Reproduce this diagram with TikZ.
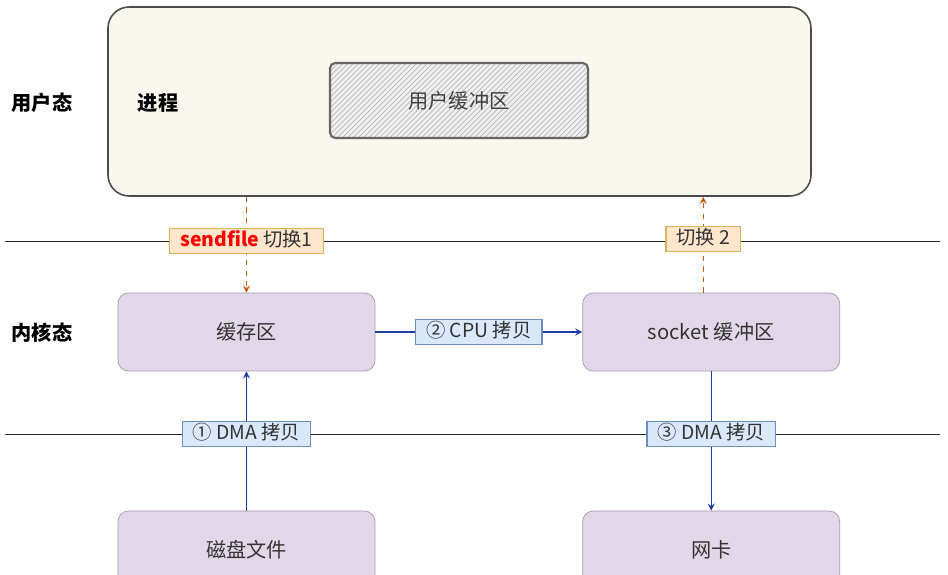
\documentclass[tikz,border=0pt]{standalone}
\usepackage{fontspec}
\setmainfont{Noto Sans CJK SC}
\usetikzlibrary{arrows, patterns, positioning}
\definecolor{cream}{HTML}{F9F7EE}
\definecolor{lilac}{HTML}{E2D7E8}
\definecolor{lilacline}{HTML}{A898AE}
\definecolor{peach}{HTML}{FFE6CC}
\definecolor{peachline}{HTML}{D6B656}
\definecolor{skyfill}{HTML}{DAE8FC}
\definecolor{skyline}{HTML}{6C8EBF}
\definecolor{copyblue}{HTML}{1F3FA6}
\definecolor{switchred}{HTML}{C55A11}
\tikzstyle{proc} = [rectangle, rounded corners=12pt, minimum width=14.06cm,
minimum height=3.78cm, draw=black!70, fill=cream, line width=0.9pt]
\tikzstyle{ubuf} = [rectangle, rounded corners=3pt, minimum width=5.16cm,
minimum height=1.5cm, draw=black!60, line width=1.2pt, pattern=north east
lines, pattern color=black!28, preaction={fill=black!6}, text=black!75]
\tikzstyle{kbuf} = [rectangle, rounded corners=6pt, minimum width=5.14cm,
minimum height=1.56cm, draw=lilacline, fill=lilac, text=black!80]
\tikzstyle{sw} = [rectangle, solid, draw=peachline, fill=peach, inner
xsep=6pt, inner ysep=1.8pt, text height=8.5pt, text depth=2.2pt,
font=\fontsize{11}{12}\selectfont, text=black!80]
\tikzstyle{cp} = [rectangle, draw=skyline, fill=skyfill, inner xsep=6pt,
inner ysep=1.8pt, text height=8.5pt, text depth=2.2pt,
font=\fontsize{11}{12}\selectfont, text=black!80]
\tikzstyle{cparrow} = [thick, ->, >=stealth, draw=copyblue]
\tikzstyle{swarrow} = [thick, ->, >=stealth, dashed, draw=switchred]
\tikzstyle{sepline} = [thin, black!85]

\begin{document}
\begin{tikzpicture}[font=\fontsize{11.5}{13}\selectfont]
    \clip (0,0) rectangle (18.96,-11.5);
    % \draw[help lines] (0,-12) grid (19,0);
    \node (P) [proc] at (9.19,-2.03) {}; \node (B) [ubuf] at (9.18,-2.01)
    {用户缓冲区}; \node (PL) at (3.16,-2.06) {\bfseries 进程};
    \node (U) at (0.84,-2.06) {\bfseries 用户态}; \node (K) at (0.84,-6.66)
    {\bfseries 内核态};
    \node (C) [kbuf] at (4.93,-6.64) {缓存区}; \node (S) [kbuf, right=4.14cm
      of C] {socket 缓冲区}; \node (D) [kbuf] at (4.93,-11.0) {磁盘文件};
    \node (N) [kbuf, right=4.14cm of D] {网卡};

    \coordinate (L1a) at (0.1,-4.82); \coordinate (L1b) at (18.8,-4.82);
    \coordinate (L2a) at (0.1,-8.68); \coordinate (L2b) at (18.8,-8.68);
    \coordinate (S2) at ([xshift=-0.16cm]S.north);
    \draw [sepline] (L1a) -- (L1b); \draw [sepline] (L2a) -- (L2b);

    \draw [swarrow] (P.south -| C.north) -- node[sw, pos=0.46]
    {\textcolor{red}{\bfseries sendfile} 切换1} (C.north); \draw [swarrow]
    (S2) -- node[sw, pos=0.56] {切换 2} (P.south -| S2);
    \draw [cparrow] (C) -- node[cp] {② CPU 拷贝} (S); \draw [cparrow] (D) --
    node[cp, pos=0.55] {① DMA 拷贝} (C); \draw [cparrow] (S) -- node[cp,
    pos=0.45] {③ DMA 拷贝} (N);

  \end{tikzpicture}
\end{document}
